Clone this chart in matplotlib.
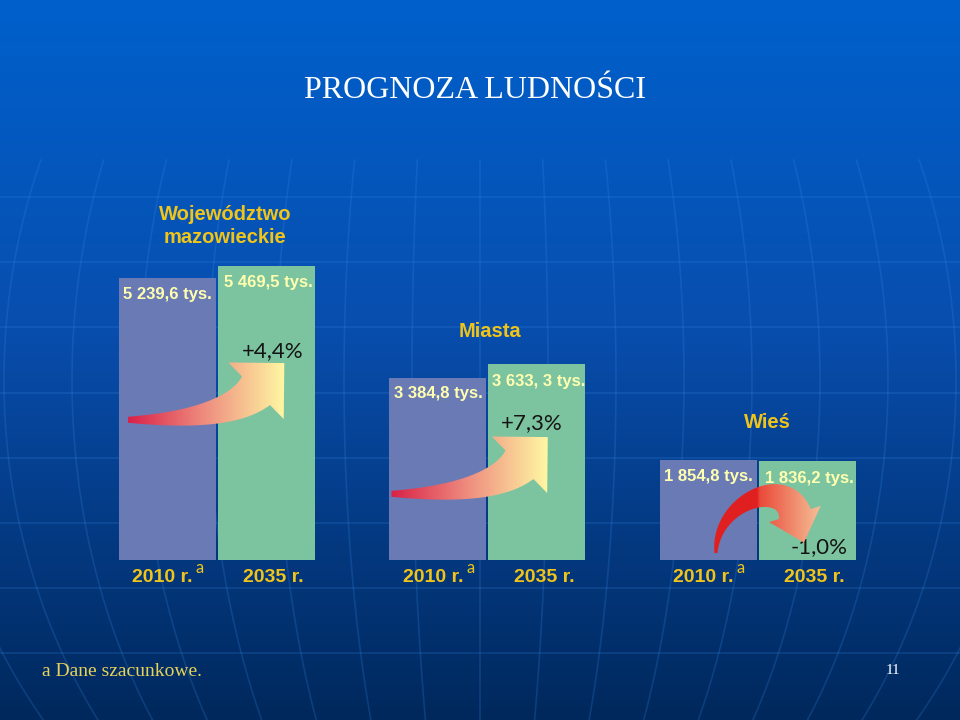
import numpy as np
import matplotlib.pyplot as plt
from matplotlib.path import Path
from matplotlib.patches import PathPatch

# data
groups = ["Województwo\nmazowieckie", "Miasta", "Wieś"]
years = ["2010 r.", "2035 r."]
pop_2010 = [5239.6, 3384.8, 1854.8]
pop_2035 = [5469.5, 3633.3, 1836.2]
labels_2010 = ["5 239,6 tys.", "3 384,8 tys.", "1 854,8 tys."]
labels_2035 = ["5 469,5 tys.", "3 633, 3 tys.", "1 836,2 tys."]
changes = ["+4,4%", "+7,3%", "-1,0%"]

W, H = 960, 720
YELLOW = "#f0c419"
PALE = "#ffffb0"
SANS = "Liberation Sans"
SERIF = "Liberation Serif"

fig = plt.figure(figsize=(W / 100, H / 100), dpi=100)

# background: gradient + globe-like grid
ax_bg = fig.add_axes([0, 0, 1, 1])
yy = np.linspace(0, 1, 256)[:, None]
top = np.array([0, 96, 204]) / 255
mid = np.array([8, 78, 174]) / 255
bot = np.array([0, 40, 92]) / 255
grad = np.where(yy < 0.45, top + (mid - top) * (yy / 0.45),
                mid + (bot - mid) * ((yy - 0.45) / 0.55))
ax_bg.imshow(grad[:, None, :].repeat(2, axis=1), extent=(0, W, H, 0), aspect="auto")
for y in np.arange(197, 700, 65.2):
    ax_bg.plot([0, W], [y, y], color="#3a8ae8", alpha=0.22, lw=1.2)
ys = np.linspace(160, H, 200)
for k in range(-9, 10):
    xs = 480 + k * 68 * np.sqrt(1 - ((ys - 380) / 570) ** 2)
    ax_bg.plot(xs, ys, color="#3a8ae8", alpha=0.22, lw=1.2)
ax_bg.set_xlim(0, W)
ax_bg.set_ylim(H, 0)
ax_bg.axis("off")

# main chart axes, same scale for all groups
ax = fig.add_axes([0, 0, 1, 1])
ax.patch.set_alpha(0)
ax.set_xlim(-0.802, 2.747)
ax.set_ylim(-2973, 10405)
ax.axis("off")

x = np.arange(len(groups))
off, bw = 0.183, 0.3586
ax.bar(x - off, pop_2010, bw, color="#6a7ab4")
ax.bar(x + off, pop_2035, bw, color="#7cc4a0")

for i in range(len(groups)):
    ax.annotate(labels_2010[i], xy=(x[i] - off, pop_2010[i]), xytext=(0, -16),
                textcoords="offset pixels", ha="center", va="center",
                family=SANS, weight="bold", fontsize=12, color=PALE)
    ax.annotate(labels_2035[i], xy=(x[i] + off, pop_2035[i]), xytext=(2, -17),
                textcoords="offset pixels", ha="center", va="center",
                family=SANS, weight="bold", fontsize=12, color=PALE)

# group titles
title_dx = [8, 2, 9]
title_dy = [19, 23, 28]
for i, g in enumerate(groups):
    ax.annotate(g, xy=(x[i], max(pop_2010[i], pop_2035[i])),
                xytext=(title_dx[i], title_dy[i]), textcoords="offset pixels",
                ha="center", va="bottom", family=SANS, weight="bold",
                fontsize=14.5, color=YELLOW, linespacing=1.25)

# percent changes
pct_frac = [0.71, 0.70, 0.13]
pct_dx = [6, -5, 12]
for i, c in enumerate(changes):
    ax.annotate(c, xy=(x[i] + off, pop_2035[i] * pct_frac[i]),
                xytext=(pct_dx[i], 0), textcoords="offset pixels",
                ha="center", va="center", family="Lato", fontsize=16,
                color="#141414")

# year labels
for i in range(len(groups)):
    t = ax.annotate(years[0], xy=(x[i] - off, 0), xytext=(-5, -18),
                    textcoords="offset pixels", ha="center", va="center",
                    family=SANS, weight="bold", fontsize=14, color=YELLOW)
    ax.annotate("a", xy=(1, 0), xycoords=t, xytext=(3, 13),
                textcoords="offset pixels", ha="left", va="baseline",
                family="Lato", fontsize=12, color=YELLOW)
    ax.annotate(years[1], xy=(x[i] + off, 0), xytext=(7, -18),
                textcoords="offset pixels", ha="center", va="center",
                family=SANS, weight="bold", fontsize=14, color=YELLOW)

# arrows overlay (image pixel coords)
ax_top = fig.add_axes([0, 0, 1, 1])
ax_top.patch.set_alpha(0)


def to_img(xd, yd):
    px, py = ax.transData.transform((xd, yd))
    return np.array([px, H - py])


def bezier(ctrl, t):
    n = len(ctrl) - 1
    from math import comb
    p = sum(comb(n, k) * ((1 - t) ** (n - k) * t ** k)[:, None] * ctrl[k]
            for k in range(n + 1))
    return p


def curved_arrow(ctrl, w0, w1, head_w, head_len, stops):
    ctrl = [np.asarray(c, float) for c in ctrl]
    t = np.linspace(0, 1, 80)
    pts = bezier(ctrl, t)
    d = np.gradient(pts, axis=0)
    d /= np.linalg.norm(d, axis=1)[:, None]
    nrm = np.stack([-d[:, 1], d[:, 0]], axis=1)
    w = (w0 + (w1 - w0) * t)[:, None] / 2
    left, right = pts + nrm * w, pts - nrm * w
    end, u, n_end = pts[-1], d[-1], nrm[-1]
    head = [end + n_end * head_w, end + u * head_len, end - n_end * head_w]
    verts = np.vstack([left, head, right[::-1], left[:1]])
    patch = PathPatch(Path(verts), fc="none", ec="none")
    ax_top.add_patch(patch)
    x0, x1 = verts[:, 0].min(), verts[:, 0].max()
    y0, y1 = verts[:, 1].min(), verts[:, 1].max()
    gx = np.linspace(x0, x1, 200)
    sx = [s[0] for s in stops]
    cols = np.array([plt.matplotlib.colors.to_rgb(s[1]) for s in stops])
    rgb = np.stack([np.interp(gx, sx, cols[:, c]) for c in range(3)], axis=1)
    im = ax_top.imshow(rgb[None, :, :].repeat(2, axis=0), extent=(x0, x1, y1, y0),
                       aspect="auto", interpolation="bilinear")
    im.set_clip_path(patch)


arrow_frac = [0.67, 0.63]
arrow_dx = [0.065, 0.039]
for i in range(2):
    tip = to_img(x[i] + off + arrow_dx[i], pop_2035[i] * arrow_frac[i])
    base = tip + np.array([-28, 28])
    p1 = tip + np.array([-58, 58])
    p0 = tip + np.array([-156, 57])
    curved_arrow([p0, p1, base], 6, 40, 39.6, 39.6,
                 [(p0[0], "#d92148"), ((p0[0] + tip[0]) / 2, "#ef8f80"),
                  (tip[0], "#fff7a3")])

# falling arrow for rural area
g = to_img(x[2], 0)
ctrl = [g + np.array(v) for v in [(-42, -7), (-42, -58), (26, -84), (37, -46)]]
curved_arrow(ctrl, 3, 33, 27, 30,
             [(g[0] - 60, "#e02020"), (g[0] - 1, "#e02020"),
              (g[0] + 2, "#ea4a3a"), (g[0] + 66, "#f6c69c")])

ax_top.set_xlim(0, W)
ax_top.set_ylim(H, 0)
ax_top.axis("off")

fig.text(475 / W, 1 - 90 / H, "PROGNOZA LUDNOŚCI", ha="center", va="center",
         family=SERIF, fontsize=23, color="white")
fig.text(42 / W, 1 - 672 / H, "a Dane szacunkowe.", ha="left", va="center",
         family=SERIF, fontsize=14, color="#e6d25a")
fig.text(893 / W, 1 - 670 / H, "11", ha="center", va="center",
         family=SERIF, fontsize=11, color="white")

fig.savefig("out.png", dpi=100)
